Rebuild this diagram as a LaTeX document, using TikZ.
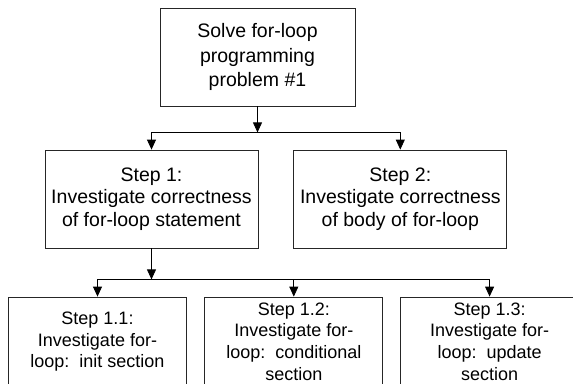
\documentclass[tikz,border=0pt]{standalone}
\usepackage{fontspec}
\setmainfont{Liberation Sans}
\usetikzlibrary{arrows.meta,positioning}
\tikzset{
  box/.style={draw=black!85,line width=0.8pt,rectangle,align=center,inner sep=0pt},
  topbox/.style={box,minimum width=195pt,minimum height=98pt,font=\fontsize{19.5}{24.5}\selectfont},
  stepbox/.style={box,minimum width=213pt,minimum height=98pt,font=\fontsize{19.5}{22.5}\selectfont},
  subbox/.style={box,minimum width=178pt,minimum height=100pt},
  subtext/.style={align=center,inner sep=0pt,font=\fontsize{18}{21.7}\selectfont},
  link/.style={line width=0.8pt,-{Triangle[length=10pt,width=9pt]}}
}

\begin{document}
\begin{tikzpicture}[x=1pt,y=-1pt]
  \useasboundingbox (0,0) rectangle (573,383);
  \clip (0,0) rectangle (573,383);

  \node[topbox] (prob) at (257.5,57) {Solve for-loop\\programming\\problem \#1};
  \node[stepbox] (step1) at (151.5,199) {Step 1:\\Investigate correctness\\of for-loop statement};
  \node[stepbox] (step2) [right=35pt of step1] {Step 2:\\Investigate correctness\\of body of for-loop};

  \node[subbox] (step11) at (97.5,347) {};
  \node[subbox] (step12) [right=17.5pt of step11] {};
  \node[subbox] (step13) [right=17pt of step12] {};
  \node[subtext] (text11) at ([yshift=-45pt]step11.north) {Step 1.1:\\Investigate for-\\loop:\ \ init section};
  \node[subtext] (text12) at ([yshift=-45pt]step12.north) {Step 1.2:\\Investigate for-\\loop:\ \ conditional\\section};
  \node[subtext] (text13) at ([yshift=-45pt]step13.north) {Step 1.3:\\Investigate for-\\loop:\ \ update\\section};

  \coordinate[below=26pt of prob] (fork1);
  \coordinate[below=31pt of step1] (fork2);

  \draw[link] (prob) -- (fork1);
  \draw[link] (fork1) -| (step1);
  \draw[link] (fork1) -| (step2);

  \draw[link] (step1) -- (fork2);
  \draw[link] (fork2) -| (step11);
  \draw[link] (fork2) -| (step12);
  \draw[link] (fork2) -| (step13);
\end{tikzpicture}
\end{document}
